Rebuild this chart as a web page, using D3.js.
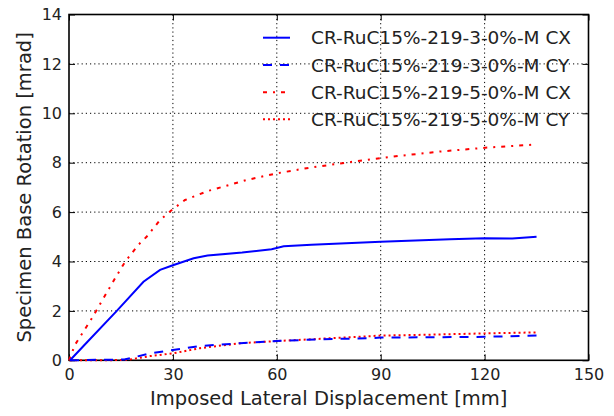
<!DOCTYPE html>
<html><head><meta charset="utf-8">
<script src="https://cdn.jsdelivr.net/npm/d3@7"></script>
<style>body{margin:0;background:#fff}svg{display:block}text{font-family:"DejaVu Sans",sans-serif;fill:#222}</style>
</head><body><svg id="c" width="614" height="416"></svg>
<script>
const xTicks = [0, 30, 60, 90, 120, 150];
const yTicks = [0, 2, 4, 6, 8, 10, 12, 14];
const seriesNames = ["CR-RuC15%-219-3-0%-M CX", "CR-RuC15%-219-3-0%-M CY", "CR-RuC15%-219-5-0%-M CX", "CR-RuC15%-219-5-0%-M CY"];
const cx3X = [0.3, 5, 13.8, 21.5, 26.3, 30, 36, 40, 50, 58.5, 62, 70, 80, 90, 100, 110, 120, 128, 135];
const cx3Y = [0, 0.7, 2.0, 3.18, 3.66, 3.85, 4.13, 4.24, 4.36, 4.5, 4.62, 4.68, 4.74, 4.8, 4.85, 4.9, 4.94, 4.93, 5.0];
const cy3X = [0.3, 8, 16, 23.4, 30, 37.8, 49.4, 60, 72.5, 86, 90, 102, 120, 135];
const cy3Y = [0, 0.02, 0.03, 0.28, 0.42, 0.58, 0.69, 0.78, 0.85, 0.89, 0.92, 0.93, 0.95, 1.0];
const cx5X = [0, 1.7, 6.6, 9.9, 13.3, 16.2, 20, 22.4, 26.3, 30, 33.5, 40, 51.3, 60, 69.6, 82, 90, 95.6, 107, 119.6, 135];
const cx5Y = [0, 0.62, 1.7, 2.5, 3.32, 3.99, 4.67, 5.0, 5.68, 6.12, 6.49, 6.85, 7.3, 7.57, 7.8, 8.04, 8.18, 8.28, 8.45, 8.6, 8.74];
const cy5X = [0.3, 10, 17, 23.4, 30, 37.8, 49.4, 60, 72.5, 90, 105, 120, 135];
const cy5Y = [0, 0, 0.02, 0.17, 0.28, 0.49, 0.69, 0.78, 0.87, 1.0, 1.04, 1.09, 1.13];

const W = 614, H = 416;
const m = {l: 69, r: 614 - 588.5, t: 14.5, b: 416 - 360.3};
const svg = d3.select("#c");
const x = d3.scaleLinear().domain([0, 150]).range([m.l, W - m.r]);
const y = d3.scaleLinear().domain([0, 14]).range([H - m.b, m.t]);

// grid
const g = svg.append("g");
g.selectAll(".gx").data(xTicks.slice(1, -1)).join("line")
  .attr("x1", d => x(d)).attr("x2", d => x(d)).attr("y1", y(0)).attr("y2", y(14))
  .attr("stroke", "#000").attr("stroke-width", 1).attr("stroke-dasharray", "1.2,3");
g.selectAll(".gy").data(yTicks.slice(1, -1)).join("line")
  .attr("y1", d => y(d)).attr("y2", d => y(d)).attr("x1", x(0)).attr("x2", x(150))
  .attr("stroke", "#000").attr("stroke-width", 1).attr("stroke-dasharray", "1.2,3");

// axes with inward ticks
const fs = 16;
const ax = svg.append("g").attr("transform", `translate(0,${y(0)})`)
  .call(d3.axisBottom(x).tickValues(xTicks).tickSize(-6).tickPadding(8));
const ay = svg.append("g").attr("transform", `translate(${x(0)},0)`)
  .call(d3.axisLeft(y).tickValues(yTicks).tickSize(-6).tickPadding(7));
const at = svg.append("g").attr("transform", `translate(0,${y(14)})`)
  .call(d3.axisTop(x).tickValues(xTicks).tickSize(-6).tickFormat(""));
const ar = svg.append("g").attr("transform", `translate(${x(150)},0)`)
  .call(d3.axisRight(y).tickValues(yTicks).tickSize(-6).tickFormat(""));
[ax, ay, at, ar].forEach(a => {
  a.select(".domain").remove();
  a.selectAll("line").attr("stroke", "#000").attr("stroke-width", 1);
  a.selectAll("text").attr("font-size", fs).attr("font-family", "DejaVu Sans").attr("fill", "#222");
});
svg.append("rect").attr("x", x(0)).attr("y", y(14)).attr("width", x(150) - x(0)).attr("height", y(0) - y(14))
  .attr("fill", "none").attr("stroke", "#000").attr("stroke-width", 1.6);

// lines
const colors = ["#0000ff", "#0000ff", "#ff0000", "#ff0000"];
const dashes = [null, "9,8", "4,6,2,6", "2,3"];
const widths = [2, 2, 2, 2];
const sets = [[cx3X, cx3Y], [cy3X, cy3Y], [cx5X, cx5Y], [cy5X, cy5Y]];
const line = d3.line().x(d => x(d[0])).y(d => y(d[1]));
const order = [3, 2, 1, 0];
order.forEach(i => {
  const pts = sets[i][0].map((v, k) => [v, sets[i][1][k]]);
  svg.append("path").attr("d", line(pts)).attr("fill", "none")
    .attr("stroke", colors[i]).attr("stroke-width", widths[i])
    .attr("stroke-dasharray", dashes[i]);
});

// legend
const lg = svg.append("g");
const rowsY = [37.7, 65, 92.3, 119.3];
seriesNames.forEach((n, i) => {
  lg.append("line").attr("x1", 263).attr("x2", 290).attr("y1", rowsY[i]).attr("y2", rowsY[i])
    .attr("stroke", colors[i]).attr("stroke-width", 2).attr("stroke-dasharray", dashes[i]);
  lg.append("text").attr("x", 311).attr("y", rowsY[i]).attr("dy", "0.36em")
    .attr("font-size", 18.5).text(n);
});

// axis labels
svg.append("text").attr("x", (x(0) + x(150)) / 2).attr("y", 405).attr("text-anchor", "middle")
  .attr("font-size", 19.5).text("Imposed Lateral Displacement [mm]");
svg.append("text").attr("transform", `translate(31,${(y(0) + y(14)) / 2}) rotate(-90)`)
  .attr("text-anchor", "middle").attr("font-size", 19.5).text("Specimen Base Rotation [mrad]");
</script></body></html>
